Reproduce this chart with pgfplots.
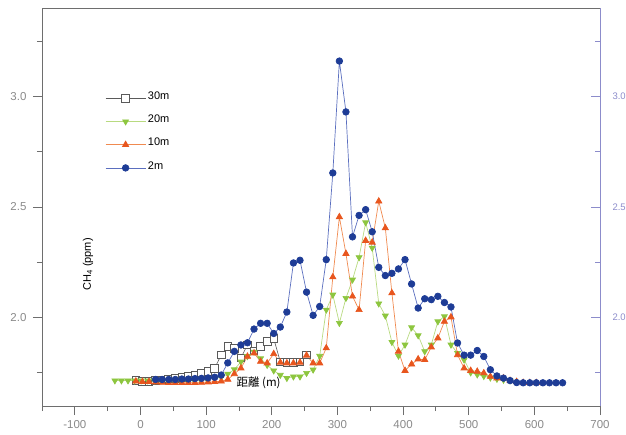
\documentclass[border=0pt]{standalone}
\usepackage{pgfplots}
\pgfplotsset{compat=1.18}
\usepackage{fontspec}
\setmainfont{Liberation Sans}
\newfontfamily\jpfont{Noto Sans CJK JP}

\definecolor{axisgrey}{HTML}{6E6E6E}
\definecolor{labelgrey}{HTML}{8A8A8A}
\definecolor{rightpurple}{HTML}{8C8CCB}
\definecolor{bluemark}{HTML}{1E3C96}
\definecolor{blueline}{HTML}{5B6FBF}
\definecolor{orangemark}{HTML}{E8561E}
\definecolor{orangeline}{HTML}{F08A50}
\definecolor{greenmark}{HTML}{8DC63F}
\definecolor{greenline}{HTML}{B8DA80}
\definecolor{sqgrey}{HTML}{5A5A5A}

% 30m
\pgfplotstableread{
x y
-7 1.715
3 1.712
13 1.712
23 1.715
33 1.718
43 1.722
53 1.726
63 1.730
73 1.735
83 1.741
93 1.750
103 1.756
113 1.771
123 1.831
133 1.869
143 1.860
153 1.817
163 1.877
173 1.850
183 1.869
193 1.892
203 1.905
213 1.800
223 1.797
233 1.797
243 1.800
253 1.831
}\thirty

% 20m
\pgfplotstableread{
x y
-39 1.715
-29 1.715
-19 1.715
-9 1.715
1 1.715
11 1.715
21 1.715
31 1.715
41 1.716
51 1.717
61 1.718
71 1.718
81 1.720
91 1.720
101 1.722
113 1.725
123 1.730
133 1.745
143 1.765
153 1.800
163 1.825
173 1.845
183 1.815
193 1.785
203 1.760
213 1.740
223 1.726
233 1.733
243 1.733
253 1.749
263 1.764
273 1.826
283 2.035
293 2.103
303 1.975
313 2.088
323 2.171
333 2.272
343 2.430
353 2.315
363 2.063
373 2.008
383 1.889
393 1.827
403 1.877
413 1.955
423 1.919
433 1.847
443 1.877
453 1.982
463 2.005
473 1.877
483 1.839
493 1.809
503 1.751
513 1.742
523 1.735
533 1.728
543 1.722
553 1.718
563 1.715
}\twenty

% 10m
\pgfplotstableread{
x y
-7 1.712
3 1.710
13 1.710
23 1.708
33 1.706
43 1.705
53 1.705
63 1.705
73 1.705
83 1.705
93 1.706
103 1.708
113 1.710
123 1.712
133 1.720
143 1.745
153 1.771
163 1.824
173 1.839
183 1.801
193 1.794
203 1.836
213 1.797
223 1.794
233 1.794
243 1.797
253 1.829
263 1.794
273 1.794
283 1.862
293 2.183
303 2.455
313 2.289
323 2.096
333 2.035
343 2.348
353 2.340
363 2.526
373 2.405
383 2.111
393 1.847
403 1.760
413 1.789
423 1.812
433 1.809
443 1.866
453 1.907
463 1.982
473 2.002
483 1.831
493 1.771
503 1.760
513 1.756
523 1.749
533 1.733
543 1.726
553 1.726
563 1.715
573 1.710
583 1.706
593 1.705
603 1.705
}\ten

% 2m
\pgfplotstableread{
x y
23 1.720
33 1.720
43 1.720
53 1.720
63 1.722
73 1.722
83 1.724
93 1.725
103 1.727
113 1.730
123 1.740
133 1.795
143 1.847
153 1.876
163 1.886
173 1.948
183 1.974
193 1.974
203 1.928
213 1.957
223 2.025
233 2.247
243 2.259
253 2.115
263 2.010
273 2.050
283 2.262
293 2.654
303 3.160
313 2.930
323 2.365
333 2.462
343 2.488
353 2.388
363 2.227
373 2.190
383 2.200
393 2.220
403 2.262
413 2.152
423 2.043
433 2.085
443 2.081
453 2.096
463 2.068
473 2.048
483 1.885
493 1.830
503 1.830
513 1.851
523 1.824
533 1.764
543 1.736
553 1.726
563 1.715
573 1.706
583 1.705
593 1.705
603 1.705
613 1.705
623 1.705
633 1.705
643 1.705
}\two

\begin{document}
\begin{tikzpicture}
\begin{axis}[
  name=main,
  width=558pt, height=398pt, scale only axis,
  xmin=-150, xmax=700, ymin=1.6, ymax=3.4,
  xtick={-100,0,...,700}, minor xtick={-150,-50,...,650},
  ytick={2.0,2.5,3.0}, minor ytick={1.75,2.25,2.75,3.25},
  xtick pos=bottom, ytick pos=left,
  tick align=outside,
  major tick length=9pt, minor tick length=5pt,
  axis line style={draw=axisgrey, line width=0.8pt},
  every tick/.style={draw=axisgrey, line width=0.8pt},
  tick label style={font=\fontsize{11.5}{13}\selectfont, text=labelgrey},
  /pgf/number format/assume math mode=true,
  yticklabel style={xshift=-3pt, /pgf/number format/.cd, fixed, fixed zerofill, precision=1},
  xticklabel style={yshift=-2pt},
  legend style={at={(rel axis cs:0.113,0.795)}, anchor=north west, draw=none,
    fill=none, font=\fontsize{11}{13}\selectfont, row sep=6pt, inner sep=0pt},
  legend cell align=left,
  legend image code/.code={%
    \draw[mark repeat=2,mark phase=2] plot coordinates {(0pt,0pt)(20pt,0pt)(40pt,0pt)};},
]
\addplot[sqgrey, line width=0.6pt, mark=square*, mark size=3.8pt,
  mark options={fill=white, draw=sqgrey, line width=0.8pt}] table {\thirty};
\addlegendentry{\raisebox{4pt}{30m}}
\addplot[greenline, line width=0.7pt, mark=triangle*, mark size=3.4pt,
  mark options={fill=greenmark, draw=greenmark, rotate=180}] table {\twenty};
\addlegendentry{\raisebox{4pt}{20m}}
\addplot[orangeline, line width=0.7pt, mark=triangle*, mark size=3.6pt,
  mark options={fill=orangemark, draw=orangemark}] table {\ten};
\addlegendentry{\raisebox{4pt}{10m}}
\addplot[blueline, line width=0.7pt, mark=*, mark size=3.3pt,
  mark options={fill=bluemark, draw=bluemark}] table {\two};
\addlegendentry{\raisebox{4pt}{2m}}
\node[rotate=90, font=\fontsize{11}{13}\selectfont] at (axis cs:-80,2.24) {CH\textsubscript{4} (ppm)};
\node[font=\jpfont\fontsize{11.5}{13}\selectfont] at (axis cs:180,1.705) {距離 (m)};
\end{axis}
\begin{axis}[
  width=558pt, height=398pt, scale only axis,
  xmin=-150, xmax=700, ymin=1.6, ymax=3.4,
  axis x line=none, axis y line*=right,
  ytick={2.0,2.5,3.0}, minor ytick={1.75,2.25,2.75,3.25},
  tick align=inside,
  major tick length=9pt, minor tick length=5pt,
  y axis line style={draw=rightpurple, line width=0.8pt},
  every tick/.style={draw=rightpurple, line width=0.8pt},
  tick label style={font=\fontsize{9.5}{11}\selectfont, text=rightpurple},
  /pgf/number format/assume math mode=true,
  yticklabel style={xshift=9pt, /pgf/number format/.cd, fixed, fixed zerofill, precision=1},
]
\end{axis}
\pgfresetboundingbox
\path ([shift={(-42pt,-28pt)}]main.south west) rectangle ([shift={(26pt,8pt)}]main.north east);
\end{tikzpicture}
\end{document}
